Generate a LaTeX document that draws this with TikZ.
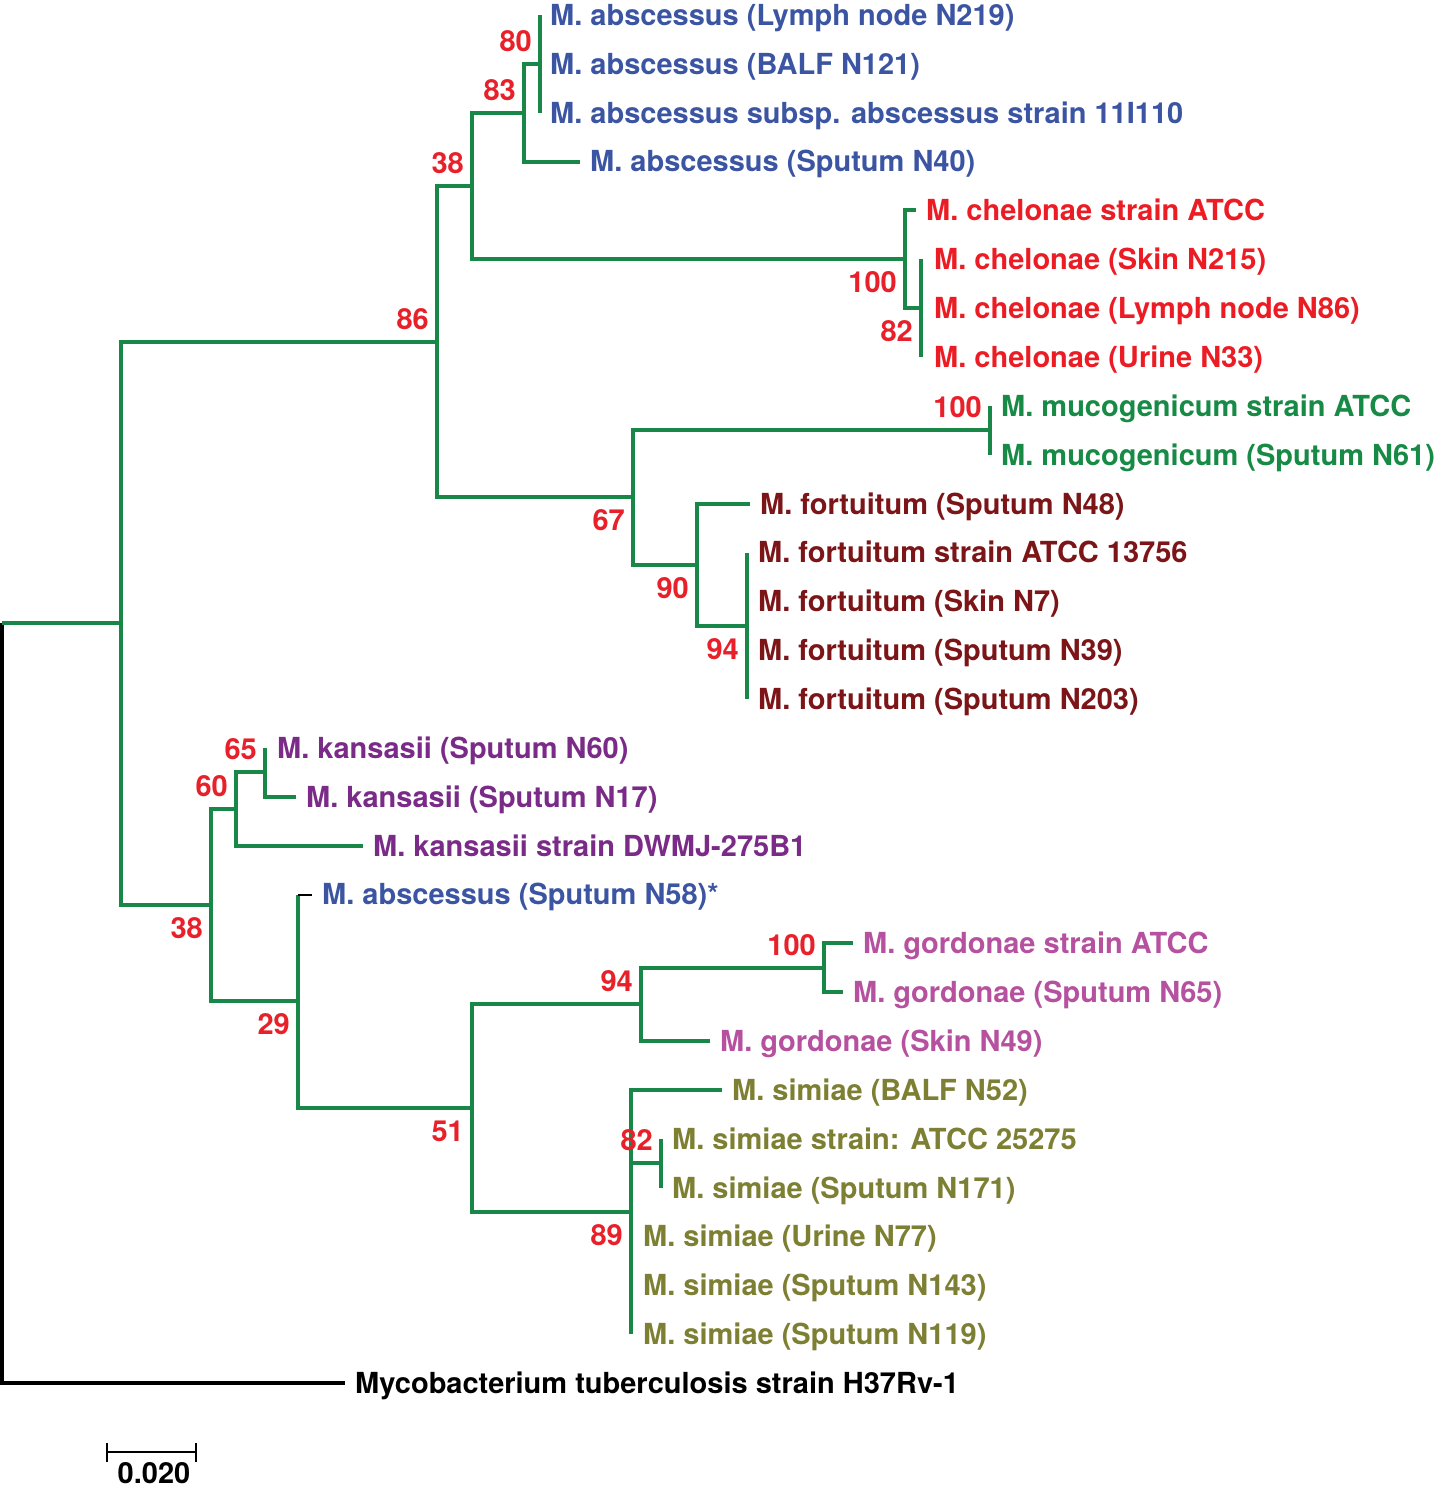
\documentclass[tikz,border=0pt]{standalone}
\usepackage{fontspec}
\setmainfont{TeX Gyre Heros}
\usepackage{tikz}
\definecolor{treegreen}{RGB}{25,135,72}
\definecolor{bsred}{RGB}{232,32,42}
\definecolor{cabs}{RGB}{59,85,163}
\definecolor{cche}{RGB}{236,28,36}
\definecolor{cmuc}{RGB}{23,138,69}
\definecolor{cfor}{RGB}{123,21,23}
\definecolor{ckan}{RGB}{122,42,135}
\definecolor{cgor}{RGB}{181,81,159}
\definecolor{csim}{RGB}{125,127,50}

\begin{document}
\begin{tikzpicture}[x=1pt, y=-1pt, br/.style={draw=treegreen, line width=4pt}, tb/.style={draw=black, line width=3.5pt}, stub/.style={draw=black, line width=2pt}, leaf/.style={anchor=west, inner xsep=10pt, inner ysep=0pt, text height=20.8pt, text depth=0pt, font=\fontsize{29}{34}\selectfont\bfseries}, bsa/.style={anchor=south east, inner sep=0pt, xshift=-8pt, yshift=12pt, text=bsred, text height=20.8pt, text depth=0pt, font=\fontsize{29}{34}\selectfont\bfseries}, bsb/.style={bsa, anchor=north east, yshift=-24pt}]
                \useasboundingbox (0,0) rectangle (1437,1490);
                % leaves
                \node[leaf, text=cabs] (ab1) at (540,15) {M. abscessus (Lymph node N219)};
                \node[leaf, text=cabs] (ab2) at (540,63.9) {M. abscessus (BALF N121)};
                \node[leaf, text=cabs] (ab3) at (540,112.7) {M. abscessus subsp. abscessus strain 11I110};
                \node[leaf, text=cabs] (ab4) at (580,161.6) {M. abscessus (Sputum N40)};
                \node[leaf, text=cche] (ch1) at (916,210.4) {M. chelonae strain ATCC};
                \node[leaf, text=cche] (ch2) at (924,259.3) {M. chelonae (Skin N215)};
                \node[leaf, text=cche] (ch3) at (924,308.2) {M. chelonae (Lymph node N86)};
                \node[leaf, text=cche] (ch4) at (924,357.0) {M. chelonae (Urine N33)};
                \node[leaf, text=cmuc] (mu1) at (991,405.9) {M. mucogenicum strain ATCC};
                \node[leaf, text=cmuc] (mu2) at (991,454.7) {M. mucogenicum (Sputum N61)};
                \node[leaf, text=cfor] (fo1) at (750,503.6) {M. fortuitum (Sputum N48)};
                \node[leaf, text=cfor] (fo2) at (748,552.5) {M. fortuitum strain ATCC 13756};
                \node[leaf, text=cfor] (fo3) at (748,601.3) {M. fortuitum (Skin N7)};
                \node[leaf, text=cfor] (fo4) at (748,650.2) {M. fortuitum (Sputum N39)};
                \node[leaf, text=cfor] (fo5) at (748,699.0) {M. fortuitum (Sputum N203)};
                \node[leaf, text=ckan] (ka1) at (267,747.9) {M. kansasii (Sputum N60)};
                \node[leaf, text=ckan] (ka2) at (296,796.8) {M. kansasii (Sputum N17)};
                \node[leaf, text=ckan] (ka3) at (363,845.6) {M. kansasii strain DWMJ-275B1};
                \node[leaf, text=cabs] (ab5) at (312,894.5) {M. abscessus (Sputum N58)*};
                \node[leaf, text=cgor] (go1) at (853,943.3) {M. gordonae strain ATCC};
                \node[leaf, text=cgor] (go2) at (843,992.2) {M. gordonae (Sputum N65)};
                \node[leaf, text=cgor] (go3) at (710,1041.1) {M. gordonae (Skin N49)};
                \node[leaf, text=csim] (si1) at (722,1089.9) {M. simiae (BALF N52)};
                \node[leaf, text=csim] (si2) at (662,1138.8) {M. simiae strain: ATCC 25275};
                \node[leaf, text=csim] (si3) at (662,1187.6) {M. simiae (Sputum N171)};
                \node[leaf, text=csim] (si4) at (633,1236.5) {M. simiae (Urine N77)};
                \node[leaf, text=csim] (si5) at (633,1285.4) {M. simiae (Sputum N143)};
                \node[leaf, text=csim] (si6) at (633,1334.2) {M. simiae (Sputum N119)};
                \node[leaf] (tb) at (345,1383) {Mycobacterium tuberculosis strain H37Rv-1};
                % inner nodes
                \coordinate (root) at (2,623);
                \coordinate (A) at (121,623);
                \coordinate (B) at (437,342);
                \coordinate (C) at (472,186);
                \coordinate (D) at (524,113);
                \coordinate (D1) at (540,64);
                \coordinate (E) at (905,259);
                \coordinate (E1) at (921,308);
                \coordinate (F) at (633,497);
                \coordinate (Mu) at (990,430);
                \coordinate (G) at (697,565);
                \coordinate (H) at (747,626);
                \coordinate (K) at (211,905);
                \coordinate (L) at (236,809);
                \coordinate (L2) at (265,772);
                \coordinate (N) at (298,1001);
                \coordinate (P) at (472,1108);
                \coordinate (Q) at (641,1004);
                \coordinate (Q2) at (824,968);
                \coordinate (R) at (631,1212);
                \coordinate (R2) at (661,1163);
                % edges
                \draw[tb] (root) |- (tb.west);
                \draw[br] (A) -- (root);
                \draw[br] (B) -| (A) |- (K);
                \draw[br] (C) -| (B) |- (F);
                \draw[br] (D) -| (C) |- (E);
                \draw[br] (D1) -| (D) |- (ab4.west);
                \draw[br] (D1 |- ab1.west) -- (D1 |- ab3.west);
                \draw[br] (ch1.west) -| (E) |- (E1);
                \draw[br] (E1 |- ch2.west) -- (E1 |- ch4.west);
                \draw[br] (Mu) -| (F) |- (G);
                \draw[br] (Mu |- mu1.west) -- (Mu |- mu2.west);
                \draw[br] (fo1.west) -| (G) |- (H);
                \draw[br] (H |- fo2.west) -- (H |- fo5.west);
                \draw[br] (L) -| (K) |- (N);
                \draw[br] (L2) -| (L) |- (ka3.west);
                \draw[br] (L2 |- ka1.west) |- (ka2.west);
                \draw[br] (N |- ab5.west) |- (P);
                \draw[stub] (N |- ab5.west) -- (ab5.west);
                \draw[br] (Q) -| (P) |- (R);
                \draw[br] (Q2) -| (Q) |- (go3.west);
                \draw[br] (go1.west) -| (Q2) |- (go2.west);
                \draw[br] (si1.west) -| (R |- si6.west);
                \draw[br] (R |- R2) -- (R2);
                \draw[br] (R2 |- si2.west) -- (R2 |- si3.west);
                % bootstrap values
                \node[bsa] (b80) at (D1) {80};
                \node[bsa] (b83) at (D) {83};
                \node[bsa] (b38a) at (C) {38};
                \node[bsa] (b86) at (B) {86};
                \node[bsb] (b100a) at (E) {100};
                \node[bsb] (b82a) at (E1) {82};
                \node[bsa] (b100b) at (Mu) {100};
                \node[bsb] (b67) at (F) {67};
                \node[bsb] (b90) at (G) {90};
                \node[bsb] (b94a) at (H) {94};
                \node[bsa] (b65) at (L2) {65};
                \node[bsa] (b60) at (L) {60};
                \node[bsb] (b38b) at (K) {38};
                \node[bsb] (b29) at (N) {29};
                \node[bsb] (b51) at (P) {51};
                \node[bsa] (b94b) at (Q) {94};
                \node[bsa] (b100c) at (Q2) {100};
                \node[bsa] (b82b) at (R2) {82};
                \node[bsb] (b89) at (R) {89};
                % scale bar
                \coordinate (sb1) at (107,1452);
                \coordinate (sb2) at (196,1452);
                \draw[stub] (sb1) -- (sb2);
                \draw[stub] ([yshift=9pt]sb1) -- ([yshift=-10pt]sb1);
                \draw[stub] ([yshift=9pt]sb2) -- ([yshift=-10pt]sb2);
                \node[font=\fontsize{29}{34}\selectfont\bfseries, anchor=north, inner sep=0pt, text height=20.8pt, text depth=0pt] (sbl) at (154,1462) {0.020};
            \end{tikzpicture}
\end{document}
